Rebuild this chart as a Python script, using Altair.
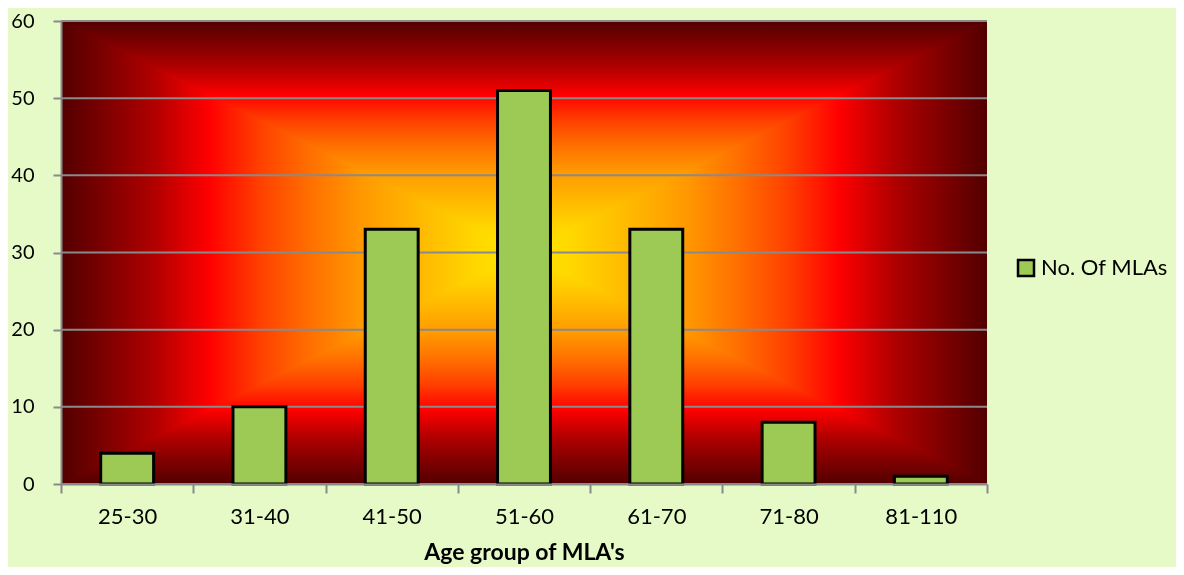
import altair as alt
import pandas as pd

# ---- data ----
categories = ["25-30", "31-40", "41-50", "51-60", "61-70", "71-80", "81-110"]
counts = [4, 10, 33, 51, 33, 8, 1]
series_name = "No. Of MLAs"
y_ticks = [0, 10, 20, 30, 40, 50, 60]

# ---- styling ----
W, H = 926, 463
FONT = "Lato"
GRID = "#8a8a8a"
BAR = "#9dca55"

# heat colours along distance-from-centre (0 = centre, 1 = edge)
heat_t = [0.0, 0.1, 0.35, 0.46, 0.57, 0.68, 0.8, 0.9, 1.0]
heat_c = ["#ffe600", "#ffd800", "#ff9900", "#ff7000", "#ff4000", "#ff0000",
          "#b00000", "#800000", "#520000"]


def sym_stops():
    stops = []
    for t, c in zip(reversed(heat_t), reversed(heat_c)):
        stops.append(alt.GradientStop(offset=0.5 - t / 2, color=c))
    for t, c in zip(heat_t[1:], heat_c[1:]):
        stops.append(alt.GradientStop(offset=0.5 + t / 2, color=c))
    return stops


grad_h = alt.LinearGradient(gradient="linear", stops=sym_stops(), x1=0, x2=1, y1=0, y2=0)
grad_v = alt.LinearGradient(gradient="linear", stops=sym_stops(), x1=0, x2=0, y1=0, y2=1)

df = pd.DataFrame({"group": categories, "count": counts, "series": [series_name] * len(categories)})
grid_df = pd.DataFrame({"v": y_ticks})
one = alt.InlineData(values=[{"k": 1}])

bg_h = alt.Chart(one).mark_rect(fill=grad_h).encode(
    x=alt.value(0), x2=alt.value(W), y=alt.value(0), y2=alt.value(H)
)
bg_v = alt.Chart(one).mark_rect(fill=grad_v, blend="darken").encode(
    x=alt.value(0), x2=alt.value(W), y=alt.value(0), y2=alt.value(H)
)

yscale = alt.Scale(domain=[0, 60], nice=False)
yaxis = alt.Axis(
    title=None,
    values=y_ticks,
    grid=False,
    tickSize=8,
    labelPadding=19,
    labelFontSize=20,
    zindex=1,
)

grid = alt.Chart(grid_df).mark_rule(color=GRID, strokeWidth=2).encode(
    y=alt.Y("v:Q", scale=yscale, axis=yaxis)
)

bars = alt.Chart(df).mark_bar(
    stroke="black", strokeWidth=3, width=alt.RelativeBandSize(0.4)
).encode(
    x=alt.X(
        "group:N",
        sort=categories,
        scale=alt.Scale(paddingInner=0, paddingOuter=0),
        axis=alt.Axis(
            title="Age group of MLA's",
            labelAngle=0,
            tickBand="extent",
            tickSize=9,
            labelPadding=13,
            titlePadding=14,
            titleFontWeight="bold",
            titleFontSize=23,
            zindex=1,
        ),
    ),
    y=alt.Y("count:Q", scale=yscale, axis=yaxis),
    color=alt.Color(
        "series:N",
        scale=alt.Scale(range=[BAR]),
        legend=alt.Legend(
            title=None,
            orient="none",
            legendX=954,
            legendY=236,
            symbolType="square",
            symbolSize=256,
            symbolStrokeColor="black",
            symbolStrokeWidth=2.5,
            symbolOpacity=1,
            labelFont=FONT,
            labelFontSize=22,
            labelColor="black",
            labelOffset=4,
        ),
    ),
)

chart = (
    alt.layer(bg_h, bg_v, grid, bars)
    .properties(
        width=W,
        height=H,
        autosize=alt.AutoSizeParams(type="none"),
        padding={"left": 53, "top": 13, "right": 189, "bottom": 83},
        background="#e5fac6",
    )
    .configure_view(stroke=None)
    .configure_axis(
        labelFont=FONT,
        labelFontSize=22,
        labelColor="black",
        titleFont=FONT,
        titleColor="black",
        domainColor=GRID,
        domainWidth=2,
        tickColor=GRID,
        tickWidth=2,
    )
)

chart.save("out.html", embed_options={"renderer": "svg", "actions": False})
